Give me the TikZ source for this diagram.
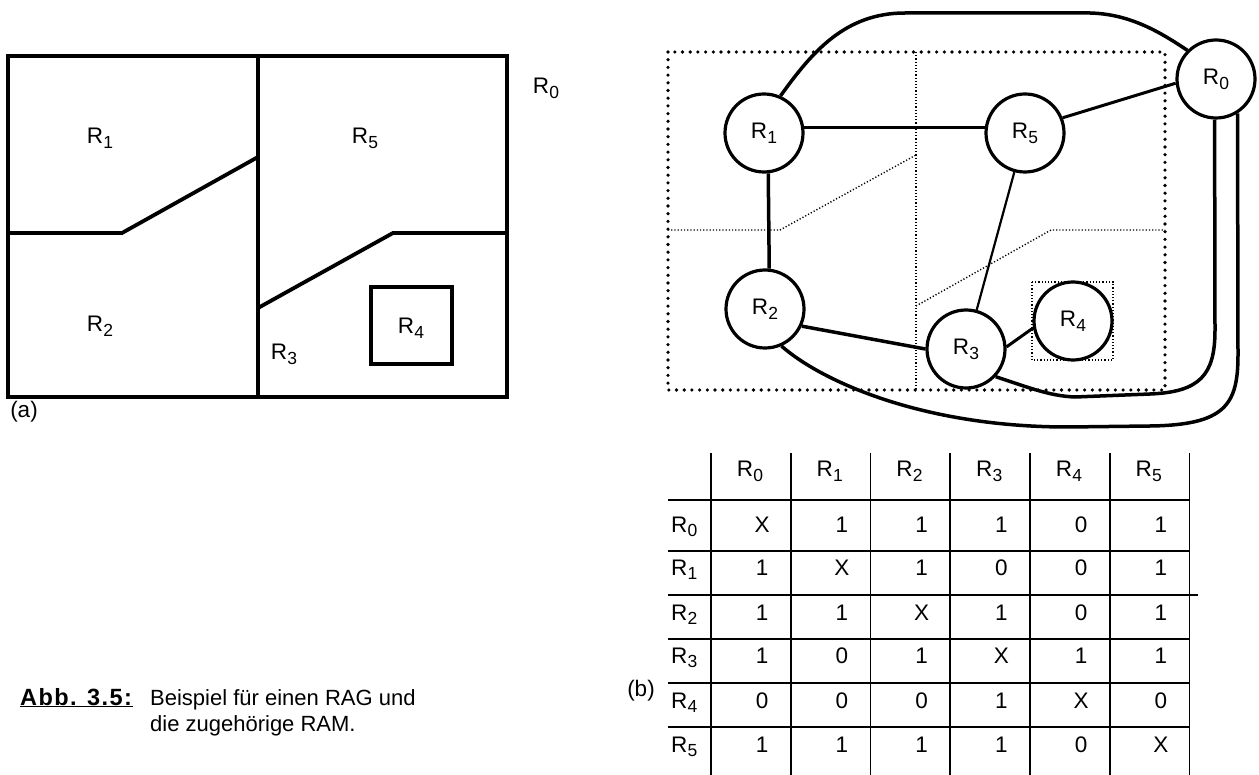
\documentclass[tikz,border=0pt]{standalone}
\usepackage{fontspec}
\setmainfont{Liberation Sans}
% region name with a large, lowered index
\newcommand\Rs[1]{R\kern0.01em\raisebox{-0.22em}{\fontsize{17.5}{17.5}\selectfont#1}}
\begin{document}
\begin{tikzpicture}[x=1pt,y=-1pt,
  every node/.style={font=\fontsize{22.5}{26}\selectfont, inner sep=0pt},
  captext/.style={font=\fontsize{22}{26}\selectfont, anchor=base west},
  region/.style={line width=3.8pt, line join=miter},
  vert/.style={circle, draw, line width=3.2pt, minimum size=78pt, fill=white},
  edgethick/.style={line width=3.5pt},
  edgemid/.style={line width=3pt},
  edgethin/.style={line width=2.2pt},
  bigdots/.style={line width=3.6pt, line cap=round, dash pattern=on 0pt off 7.7pt},
  smalldots/.style={line width=1.4pt, dash pattern=on 1.2pt off 2pt},
  gridline/.style={line width=1.8pt},
  cell/.style={anchor=base},
]
\useasboundingbox (0,0) rectangle (1259,775);

% ---------- (a) region partition ----------
\draw[region] (8,56) rectangle (507,397);
\draw[region] (258,56) -- (258,397);
\draw[region] (8,233) -- (122,233) -- (258,157);
\draw[region] (258,308) -- (393,233) -- (507,233);
\draw[region] (371,287) rectangle (452,364);
\node (a1) at (100,138) {\Rs1};
\node (a5) at (365,138) {\Rs5};
\node (a2) at (100,326) {\Rs2};
\node (a3) at (284,354) {\Rs3};
\node (a4) at (411,328) {\Rs4};
\node (a0) at (546,88) {\Rs0};
\node (alab) at (24,412) {(a)};

% ---------- (b) adjacency graph ----------
\draw[bigdots] (668,52) rectangle (1165,390);
\draw[smalldots] (916,52) -- (916,390);
\draw[smalldots] (668,230) -- (780,230) -- (916,155);
\draw[smalldots] (916,306) -- (1051,230) -- (1165,230);
\draw[smalldots] (1032,282) rectangle (1113,360);

\node[vert] (g1) at (764,133) {\Rs1};
\node[vert] (g5) at (1025,133) {\Rs5};
\node[vert] (g0) at (1216,79) {\Rs0};
\node[vert] (g2) at (765,309) {\Rs2};
\node[vert] (g3) at (966,349) {\Rs3};
\node[vert] (g4) at (1073,321) {\Rs4};

\draw[edgethick] (g1.8) -- (g5.172);
\draw[edgethick] (g1.-84) -- (g2.84);
\draw[edgethick] (g2.-25) -- (g3.180);
\draw[edgethin] (g3) -- (g5);
\draw[edgemid] (g3.3) -- (g4.190);
\draw[edgemid] (g5.22) -- (g0.186);
\draw[edgethick] (g1.66) .. controls (812,52) and (845,13) .. (905,13)
  -- (1090,13) .. controls (1130,14) and (1160,32) .. (g0.135);
\draw[edgethick] (g3.-43) .. controls (1030,388) and (1050,396) .. (1075,397)
  -- (1150,394) .. controls (1200,392) and (1215,375) .. (1215,330) -- (g0.-92);
\draw[edgethick] (g2.-66) .. controls (820,380) and (920,427) .. (1068,427)
  -- (1150,426) .. controls (1225,425) and (1238,405) .. (1238,355) -- (g0.-58);

% ---------- adjacency matrix ----------
\foreach \i in {0,...,6}
  \draw[gridline] ({711+79.75*\i},453) -- ({711+79.75*\i},775);
\foreach \y in {500,551,639,683,727}
  \draw[gridline] (668,\y) -- (1190,\y);
\draw[gridline] (668,595) -- (1198,595);

\foreach \i in {0,...,5}
  \node[cell] (h\i) at ({750+79.75*\i},477) {\Rs{\i}};

\foreach \r/\yb/\vals in {0/532/{X,1,1,1,0,1},1/575/{1,X,1,0,0,1},2/620/{1,1,X,1,0,1},
                         3/663/{1,0,1,X,1,1},4/708/{0,0,0,1,X,0},5/752/{1,1,1,1,0,X}}{
  \node[cell, anchor=base west] (r\r) at (671,\yb) {\Rs{\r}};
  \foreach \v [count=\c from 0] in \vals
    \node[cell] (m\r\c) at ({762+79.75*\c},\yb) {\v};
}

\node[anchor=base] (blab) at (641,696) {(b)};

% ---------- caption ----------
\node[captext] (cap0) at (20,705)
  {\fontsize{23.5}{26}\selectfont\underline{\addfontfeature{LetterSpace=6}\textbf{Abb. 3.5:}}};
\node[captext] (cap1) at (150,705) {Beispiel für einen RAG und};
\node[captext] (cap2) at (150,731) {die zugehörige RAM.};
\end{tikzpicture}
\end{document}
